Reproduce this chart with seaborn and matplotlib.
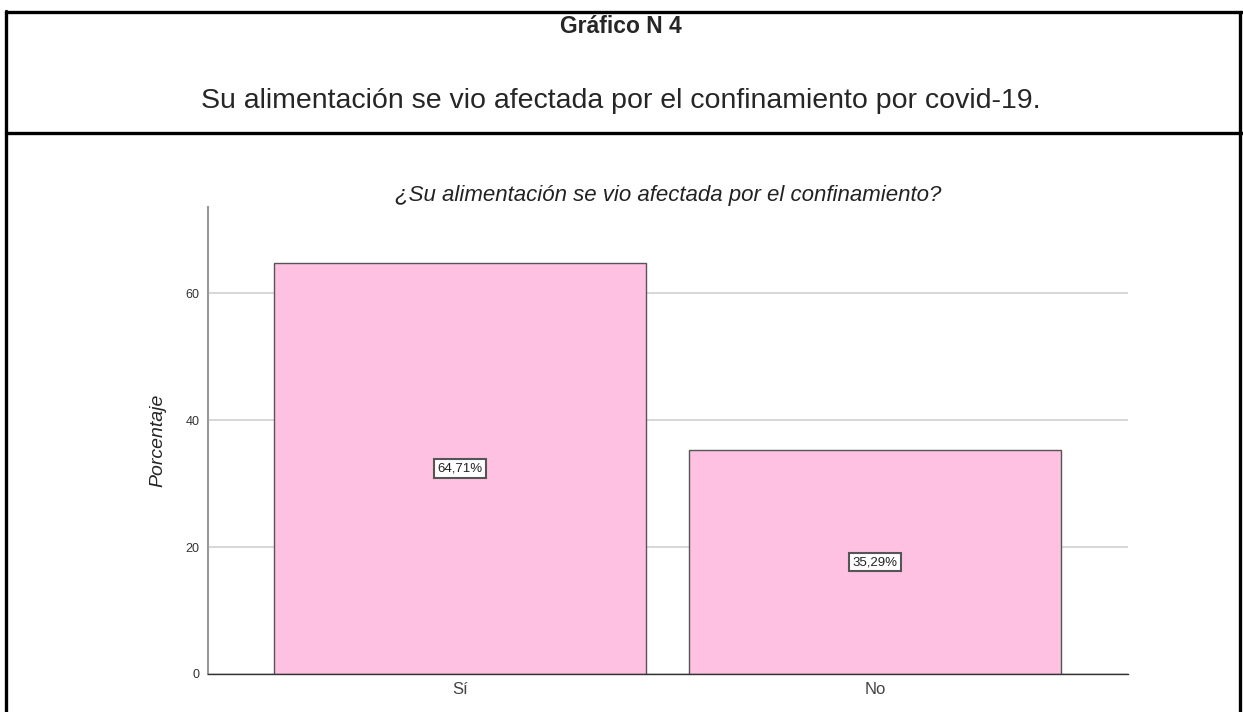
import matplotlib
matplotlib.use("Agg")
import matplotlib.pyplot as plt
from matplotlib.lines import Line2D
import seaborn as sns
import pandas as pd

# ── Data ──────────────────────────────────────────
categorias = ["Sí", "No"]
porcentajes = [64.71, 35.29]
etiquetas = ["64,71%", "35,29%"]
y_ticks = [0, 20, 40, 60]

titulo = "Gráfico N 4"
subtitulo = "Su alimentación se vio afectada por el confinamiento por covid-19."
titulo_chart = "¿Su alimentación se vio afectada por el confinamiento?"

df = pd.DataFrame({"cat": categorias, "pct": porcentajes})

sns.set_style("white")
plt.rcParams["font.family"] = ["Liberation Sans", "DejaVu Sans"]

W, H = 1243, 712
fig = plt.figure(figsize=(W / 100, H / 100), dpi=100)

# ── Header / frame ────────────────────────────────
def px(x, y):
    return x / W, 1 - y / H

for (x0, y0), (x1, y1) in [((6, 12), (W, 12)), ((6, 133), (W, 133)),
                           ((6, 11), (6, H)), ((1240, 12), (1240, H))]:
    a, b = px(x0, y0)
    c, d = px(x1, y1)
    fig.add_artist(Line2D([a, c], [b, d], color="black", lw=2.4,
                          transform=fig.transFigure))

fig.text(*px(621, 33), titulo, ha="center", va="baseline",
         fontsize=16.5, fontweight="bold")
fig.text(*px(621, 108), subtitulo, ha="center", va="baseline", fontsize=20.5)

# ── Chart ─────────────────────────────────────────
ax_l, ax_r, ax_t, ax_b = 208, 1128, 207, 674
ax = fig.add_axes([ax_l / W, 1 - ax_b / H, (ax_r - ax_l) / W, (ax_b - ax_t) / H])
ax.set_axisbelow(True)
ax.yaxis.grid(True, color="#d4d4d4", lw=1.3)

sns.barplot(data=df, x="cat", y="pct", color="#ffc1e1", saturation=1,
            width=0.896, edgecolor="#555555", linewidth=1.0, ax=ax)

for i, (v, t) in enumerate(zip(porcentajes, etiquetas)):
    ax.text(i, v / 2, t, ha="center", va="center", fontsize=9.5, color="#222222",
            bbox=dict(boxstyle="square,pad=0.25", fc="white", ec="#555555", lw=1.5))

ax.set_xlim(-0.607, 1.61)
ax.set_ylim(0, 73.6)
ax.set_yticks(y_ticks)
ax.tick_params(axis="y", labelsize=9, colors="#333333", length=0, pad=6)
ax.tick_params(axis="x", labelsize=12, colors="#444444", length=0, pad=6)
ax.set_xlabel("")
ax.set_ylabel("Porcentaje", fontsize=14, style="italic", labelpad=14)
fig.text(*px(668, 195), titulo_chart, ha="center", va="center",
         fontsize=16, style="italic", color="#222222")

for s in ["top", "right"]:
    ax.spines[s].set_visible(False)
ax.spines["left"].set_color("#999999")
ax.spines["left"].set_linewidth(1.5)
ax.spines["bottom"].set_color("#333333")
ax.spines["bottom"].set_linewidth(1.0)

fig.savefig("out.png", dpi=100)
